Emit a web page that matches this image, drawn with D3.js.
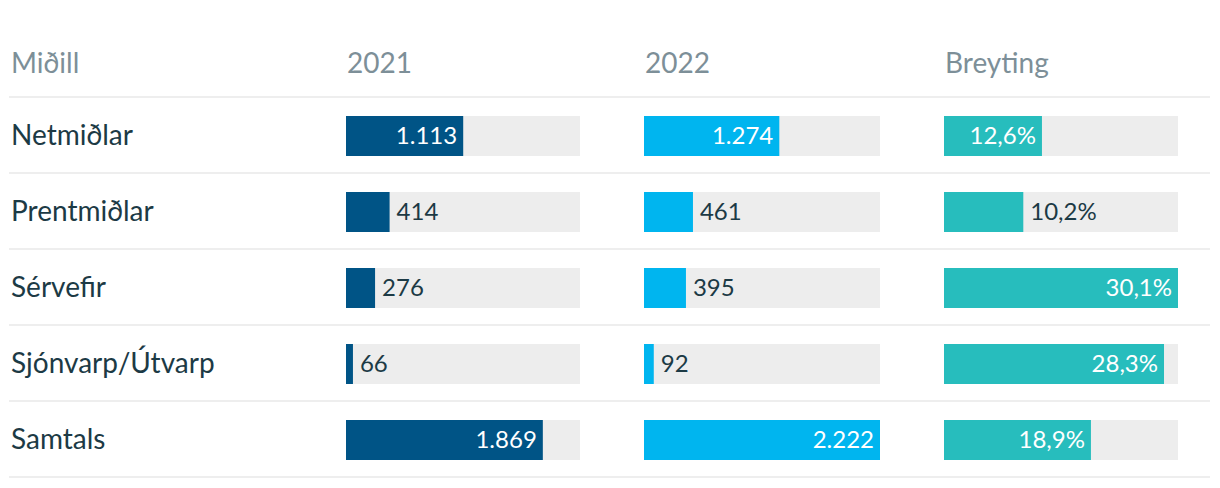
<!DOCTYPE html>
<html>
<head>
  <meta charset="utf-8">
  <script src="https://d3js.org/d3.v7.min.js"></script>
  <style>
    body { margin: 0; background: #fff; }
    svg text { font-family: Lato, "Open Sans", sans-serif; }
  </style>
</head>
<body>
<svg id="chart"></svg>
<script>
  var headers = ["Miðill", "2021", "2022", "Breyting"];
  var media = ["Netmiðlar", "Prentmiðlar", "Sérvefir", "Sjónvarp/Útvarp", "Samtals"];
  var values2021 = [1113, 414, 276, 66, 1869];
  var values2022 = [1274, 461, 395, 92, 2222];
  var change = [12.6, 10.2, 30.1, 28.3, 18.9];

  var w = 1220, h = 488;
  var svg = d3.select("#chart").attr("width", w).attr("height", h);

  // icelandic number format
  var is = d3.formatLocale({decimal: ",", thousands: ".", grouping: [3], currency: ["", " kr."]});
  var fmtInt = is.format(",d");
  var fmtPct = function(v) { return is.format(".1f")(v) + "%"; };

  var lineX0 = 9, lineX1 = 1210;
  var yRow = d3.scaleBand().domain(media).range([97, 477]);
  var barInset = 19, barH = 40;

  var maxYears = d3.max(values2021.concat(values2022));
  var columns = [
    {head: headers[1], x: 346, width: 234, values: values2021, color: "#005486", fmt: fmtInt, max: maxYears},
    {head: headers[2], x: 644, width: 236, values: values2022, color: "#00b5ef", fmt: fmtInt, max: maxYears},
    {head: headers[3], x: 944, width: 234, values: change, color: "#27bdbd", fmt: fmtPct, max: d3.max(change)}
  ];

  // header row
  svg.append("text").attr("x", 11).attr("y", 73).text(headers[0])
    .attr("font-size", "28px").attr("fill", "#7d8f98");
  columns.forEach(function(c) {
    svg.append("text").attr("x", c.x + 1).attr("y", 73).text(c.head)
      .attr("font-size", "28px").attr("fill", "#7d8f98");
  });

  // separator lines
  var lines = [yRow.range()[0]].concat(media.map(function(m) { return yRow(m) + yRow.step(); }));
  svg.selectAll("line.sep").data(lines).enter().append("line")
    .attr("class", "sep")
    .attr("x1", lineX0).attr("x2", lineX1)
    .attr("y1", function(d) { return d; }).attr("y2", function(d) { return d; })
    .attr("stroke", "#eeeeee").attr("stroke-width", 2);

  // row labels
  svg.selectAll("text.row").data(media).enter().append("text")
    .attr("class", "row")
    .attr("x", 11)
    .attr("y", function(d) { return yRow(d) + yRow.bandwidth() / 2; })
    .attr("dy", "0.36em")
    .attr("font-size", "28px").attr("fill", "#1c3a45")
    .text(function(d) { return d; });

  // bar columns
  columns.forEach(function(c) {
    var x = d3.scaleLinear().domain([0, c.max]).range([0, c.width]);
    var g = svg.append("g").attr("transform", "translate(" + c.x + ",0)");
    var rows = media.map(function(m, i) { return {name: m, v: c.values[i]}; });

    g.selectAll("rect.bg").data(rows).enter().append("rect")
      .attr("class", "bg")
      .attr("x", 0).attr("y", function(d) { return yRow(d.name) + barInset; })
      .attr("width", c.width).attr("height", barH)
      .attr("fill", "#ededed");

    g.selectAll("rect.bar").data(rows).enter().append("rect")
      .attr("class", "bar")
      .attr("x", 0).attr("y", function(d) { return yRow(d.name) + barInset; })
      .attr("width", function(d) { return x(d.v); }).attr("height", barH)
      .attr("fill", c.color);

    var labels = g.selectAll("text.val").data(rows).enter().append("text")
      .attr("class", "val")
      .attr("y", function(d) { return yRow(d.name) + yRow.bandwidth() / 2; })
      .attr("dy", "0.36em")
      .attr("font-size", "24px")
      .text(function(d) { return c.fmt(d.v); });

    // label inside the bar when it fits, otherwise just after it
    labels.each(function(d) {
      var t = d3.select(this);
      var tw = this.getComputedTextLength();
      var bw = x(d.v);
      if (bw > tw + 25) {
        t.attr("x", bw - 6).attr("text-anchor", "end").attr("fill", "#ffffff");
      } else {
        t.attr("x", bw + 7).attr("text-anchor", "start").attr("fill", "#1c3a45");
      }
    });
  });
</script>
</body>
</html>
